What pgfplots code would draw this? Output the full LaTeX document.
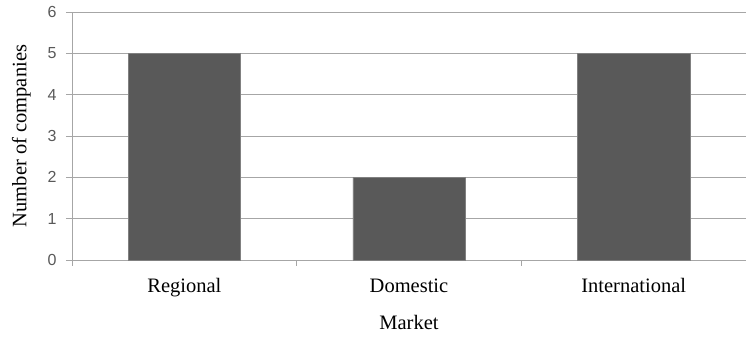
\documentclass[border=0pt]{standalone}
\usepackage{pgfplots}
\pgfplotsset{compat=1.18}
\usepackage{fontspec}
\setmainfont{Liberation Serif}
\newfontfamily\ticksans{Liberation Sans}
\definecolor{barfill}{HTML}{595959}
\definecolor{gridgray}{HTML}{A6A6A6}
\definecolor{ticktext}{HTML}{595959}
\begin{document}
\begin{tikzpicture}
\begin{axis}[
  scale only axis,
  width=674pt, height=248pt,
  xmin=-0.5, xmax=2.5,
  ymin=0, ymax=6,
  axis x line=bottom, axis y line=left,
  axis line style={-, gridgray, line width=0.9pt},
  /pgf/number format/assume math mode=true,
  xtick={-0.5,0.5,1.5,2.5},
  xticklabels={},
  extra x ticks={0,1,2},
  extra x tick labels={Regional,Domestic,International},
  extra x tick style={major tick length=0pt,
    tick label style={font=\fontsize{20.5}{23}\selectfont, text=black, yshift=-15pt}},
  ytick={0,1,...,6},
  y tick label style={font=\ticksans\fontsize{16}{18}\selectfont, text=ticktext, xshift=-6pt},
  ymajorgrids,
  grid style={gridgray, line width=0.9pt},
  tick style={draw=gridgray, line width=0.9pt},
  major tick length=6pt,
  tick align=outside,
  xlabel={Market},
  xlabel style={font=\fontsize{20.5}{23}\selectfont, yshift=-5pt},
  ylabel={Number of companies},
  ylabel style={font=\fontsize{20.5}{23}\selectfont, yshift=10pt},
  clip=false,
]
\addplot[ybar, bar width=0.5, fill=barfill, draw=gray, line width=0.6pt]
  coordinates {(0,5) (1,2) (2,5)};
\end{axis}
\pgfresetboundingbox
\path ([xshift=-72pt,yshift=-79pt]current axis.south west) rectangle ([yshift=12pt]current axis.north east);
\end{tikzpicture}
\end{document}
